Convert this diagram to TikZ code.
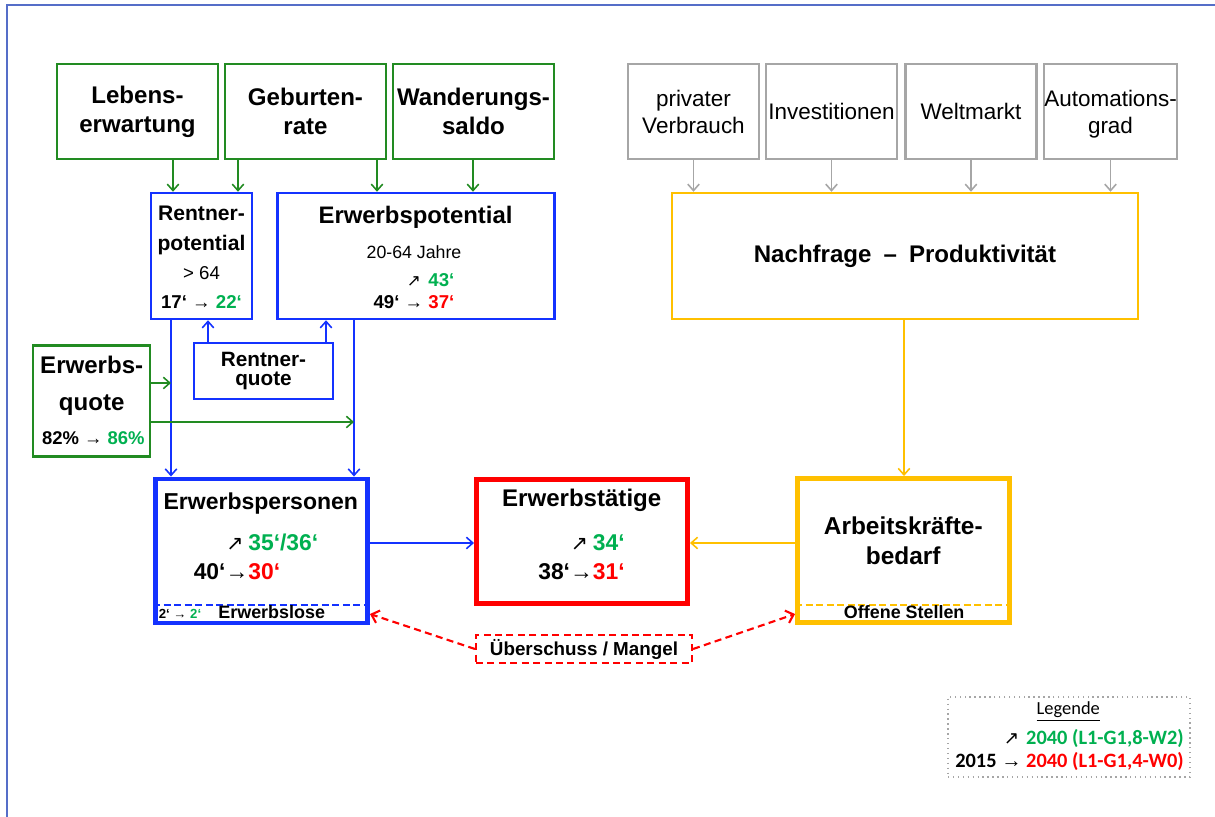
\documentclass[tikz,border=0pt]{standalone}
\usepackage{fontspec}
\usepackage{graphicx}
\setmainfont{Liberation Sans}
\newfontfamily\legfont{Carlito}
\newfontfamily\symfont{DejaVu Sans}
\newfontfamily\arfont{Liberation Sans}
\usetikzlibrary{arrows.meta}
\newlength\pxu
\setlength\pxu{0.02cm}
\definecolor{gruen}{RGB}{34,139,34}
\definecolor{hgruen}{RGB}{0,176,80}
\definecolor{blau}{RGB}{20,50,255}
\definecolor{gelb}{RGB}{255,192,0}
\definecolor{grau}{RGB}{166,166,166}
\definecolor{rahmen}{RGB}{85,110,200}
\newcommand\fsz[2]{\fontsize{#1}{#2}\selectfont}
\newcommand\nea{\scalebox{0.9}{\symfont\mdseries ↗}}
\newcommand\ra{{\arfont →}}
\newcommand\gn[1]{\textcolor{hgruen}{#1}}
\newcommand\rt[1]{\textcolor{red}{#1}}
\begin{document}
\begin{tikzpicture}[x=0.02cm,y=-0.02cm,
    kasten/.style 2 args={rectangle,minimum width=#1\pxu,minimum height=#2\pxu,inner sep=0pt,align=center},
    gruenbox/.style={draw=gruen,line width=1.2pt,font=\bfseries\fsz{13.7}{16.5}},
    graubox/.style={draw=grau,line width=1.2pt,font=\fsz{12.8}{15.4}},
    blaubox/.style={draw=blau,line width=1.4pt},
    dickbox/.style={line width=2.8pt},
    trenn/.style={line width=1.3pt,dash pattern=on 4pt off 2pt},
    verb/.style={line width=0.9pt,-{Straight Barb[length=1.3mm,width=2.3mm]}},
    rotverb/.style={red,line width=1.2pt,dash pattern=on 4pt off 2.5pt,-{Straight Barb[length=1.4mm,width=2.6mm]}}]
    \useasboundingbox (0,0) rectangle (1215,817);
    \draw[rahmen,line width=1.2pt] (7,817) -- (7,5) -- (1215,5);
    % Bevoelkerung
    \node[kasten={161}{95},gruenbox] (leb) at (137.5,111.5) {Lebens-\\erwartung};
    \node[kasten={161}{95},gruenbox] (geb) at (305.5,111.5) {Geburten-\\rate};
    \node[kasten={161}{95},gruenbox] (wan) at (473.5,111.5) {Wanderungs-\\saldo};
    \node[kasten={101}{126},blaubox] (rpot) at (201.5,256) {};
    \node[font=\bfseries\fsz{12}{17.6},align=center] (rpot-t) at (201.5,230.4) {Rentner-\\potential};
    \node[anchor=base,font=\fsz{10.6}{12}] (rpot-a) at (201.5,280) {> 64};
    \node[anchor=base,font=\bfseries\fsz{10.6}{12}] (rpot-z) at (201.5,308.3) {17‘ \ra{} \gn{22‘}};
    \node[kasten={277}{126},blaubox] (epot) at (416,256) {};
    \node[anchor=base,font=\bfseries\fsz{13.6}{16}] (epot-t) at (415.5,223.3) {Erwerbspotential};
    \node[anchor=base,font=\fsz{10.1}{12}] (epot-a) at (414,258.3) {20-64 Jahre};
    \node[font=\bfseries\fsz{10.6}{12}] (epot-z) at (414,293.3)
        {\begin{tabular}{@{}r@{ }c@{ }l@{}}\phantom{49‘} & \nea & \gn{43‘}\\ 49‘ & \ra & \rt{37‘}\end{tabular}};
    \node[kasten={139}{56},blaubox,font=\bfseries\fsz{11.8}{10.8}] (rquo) at (263.5,371) {Rentner-\\quote};
    \node[kasten={117}{111},draw=gruen,line width=1.4pt] (equo) at (91.5,401) {};
    \node[font=\bfseries\fsz{13.7}{20.9},align=center] (equo-t) at (91.7,385.5) {Erwerbs-\\quote};
    \node[anchor=base,font=\bfseries\fsz{10.5}{12}] (equo-z) at (93.3,444.3) {82\% \ra{} \gn{86\%}};
    % Arbeitsmarkt
    \node[kasten={212}{144},draw=blau,dickbox] (epers) at (261.5,551) {};
    \node[anchor=base,font=\bfseries\fsz{13.1}{16}] (epers-t) at (260.8,509.3) {Erwerbspersonen};
    \node[font=\bfseries\fsz{13}{17}] (epers-z) at (256,559)
        {\begin{tabular}{@{}r@{}c@{}l@{}}\phantom{40‘} & \nea\, & \gn{35‘/36‘}\\ 40‘ & \ra & \rt{30‘}\end{tabular}};
    \draw[blau,trenn] (epers.west |- 0,605) -- (epers.east |- 0,605);
    \node[anchor=base,font=\bfseries\fsz{7.5}{9}] (epers-l) at (180,619) {2‘ \ra{} \gn{2‘}};
    \node[anchor=base,font=\bfseries\fsz{10.2}{12}] (epers-e) at (271.7,619) {Erwerbslose};
    \node[kasten={211}{124},draw=red,dickbox] (etaet) at (582,541.5) {};
    \node[anchor=base,font=\bfseries\fsz{13.7}{16}] (etaet-t) at (581.7,506.7) {Erwerbstätige};
    \node[font=\bfseries\fsz{13}{17}] (etaet-z) at (581.5,559)
        {\begin{tabular}{@{}r@{}c@{}l@{}}\phantom{38‘} & \nea\, & \gn{34‘}\\ 38‘ & \ra & \rt{31‘}\end{tabular}};
    \node[kasten={212}{144},draw=gelb,dickbox] (ak) at (903.5,550.5) {};
    \node[font=\bfseries\fsz{13.9}{17},align=center] (ak-t) at (903.3,541) {Arbeitskräfte-\\bedarf};
    \draw[gelb,trenn] (ak.west |- 0,605) -- (ak.east |- 0,605);
    \node[anchor=base,font=\bfseries\fsz{10.2}{12}] (ak-o) at (904.2,619) {Offene Stellen};
    \node[kasten={216}{28},draw=red,line width=1.2pt,dash pattern=on 4pt off 2.5pt,font=\bfseries\fsz{10.7}{12}] (ueb) at (584,649) {Überschuss / Mangel};
    % Wirtschaft
    \node[kasten={131}{95},graubox] (priv) at (693.5,111.5) {privater\\Verbrauch};
    \node[kasten={131}{95},graubox] (inv) at (831.5,111.5) {Investitionen};
    \node[kasten={131}{95},graubox] (welt) at (971,111.5) {Weltmarkt};
    \node[kasten={131}{95},graubox,text depth=0pt] (auto) at (1110.5,111.5) {Automations-\\grad};
    \node[kasten={466}{126},draw=gelb,line width=1.4pt,font=\bfseries\fsz{13.7}{16}] (nach) at (905,256) {Nachfrage\enspace–\enspace Produktivität};
    % Legende
    \node[kasten={242}{80},draw=grau,line width=0.8pt,dotted] (leg) at (1069,737) {};
    \node[anchor=base,font=\legfont\fsz{10.5}{12}] (leg-t) at (1068.3,715) {\underline{Legende}};
    \node[font=\legfont\bfseries\fsz{11.6}{13}] (leg-z) at (1069.5,751.2)
        {\begin{tabular}{@{}r@{ }c@{ }l@{}}\phantom{2015} & \nea & \gn{2040 (L1-G1,8-W2)}\\ 2015 & \ra & \rt{2040 (L1-G1,4-W0)}\end{tabular}};
    % Pfeile
    \coordinate (vl) at (171,0);
    \coordinate (vr) at (354,0);
    \draw[verb,gruen] (leb.south -| 173,0) -- (rpot.north -| 173,0);
    \draw[verb,gruen] (geb.south -| 238,0) -- (rpot.north -| 238,0);
    \draw[verb,gruen] (geb.south -| 377,0) -- (epot.north -| 377,0);
    \draw[verb,gruen] (wan.south -| 473,0) -- (epot.north -| 473,0);
    \draw[verb,blau] (rquo.north -| 208,0) -- (rpot.south -| 208,0);
    \draw[verb,blau] (rquo.north -| 326,0) -- (epot.south -| 326,0);
    \draw[verb,blau] (rpot.south -| vl) -- (epers.north -| vl);
    \draw[verb,blau] (epot.south -| vr) -- (epers.north -| vr);
    \draw[verb,gruen] (equo.east |- 0,383) -- (vl |- 0,383);
    \draw[verb,gruen] (equo.east |- 0,422) -- (vr |- 0,422);
    \draw[verb,blau] (epers.east |- 0,543) -- (etaet.west |- 0,543);
    \draw[verb,gelb] (ak.west |- 0,543) -- (etaet.east |- 0,543);
    \draw[verb,gelb] (nach.south -| 904,0) -- (ak.north -| 904,0);
    \draw[verb,grau] (priv.south) -- (priv.south |- nach.north);
    \draw[verb,grau] (inv.south) -- (inv.south |- nach.north);
    \draw[verb,grau] (welt.south) -- (welt.south |- nach.north);
    \draw[verb,grau] (auto.south) -- (auto.south |- nach.north);
    \draw[rotverb] (ueb.west) -- (epers.east |- 0,614);
    \draw[rotverb] (ueb.east) -- (ak.west |- 0,614);
\end{tikzpicture}
\end{document}
